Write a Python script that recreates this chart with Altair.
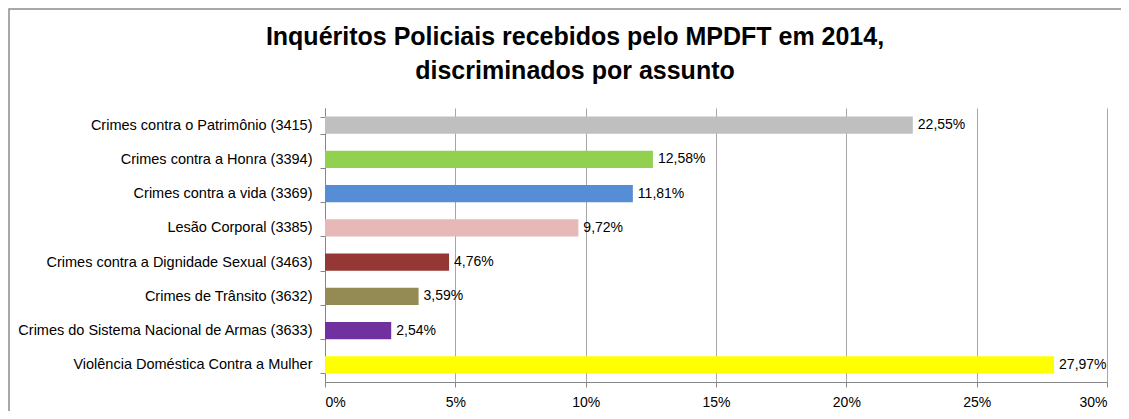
import altair as alt
import pandas as pd

categories = [
    "Crimes contra o Patrimônio (3415)",
    "Crimes contra a Honra (3394)",
    "Crimes contra a vida (3369)",
    "Lesão Corporal (3385)",
    "Crimes contra a Dignidade Sexual (3463)",
    "Crimes de Trânsito (3632)",
    "Crimes do Sistema Nacional de Armas (3633)",
    "Violência Doméstica Contra a Mulher",
]
values = [22.55, 12.58, 11.81, 9.72, 4.76, 3.59, 2.54, 27.97]
colors = ["#BFBFBF", "#92D050", "#558ED5", "#E6B9B8", "#953735", "#948A54", "#7030A0", "#FFFF00"]
x_ticks = [0, 5, 10, 15, 20, 25, 30]

df = pd.DataFrame({
    "cat": categories,
    "val": values,
    "label": [f"{v:.2f}".replace(".", ",") + "%" for v in values],
})

W, H = 782, 274
PL, PT, PR, PB = 317, 100, 14, 29
FONT = "Liberation Sans"

y_enc = alt.Y("cat:N", sort=categories, title=None,
              scale=alt.Scale(paddingInner=0.5, paddingOuter=0.25),
              axis=alt.Axis(labelFontSize=14.5, labelColor="#000000", labelFont=FONT,
                            labelLimit=400, labelPadding=8, tickBand="extent",
                            domainColor="#868686", tickColor="#868686", tickSize=5,
                            grid=False))
x_enc = alt.X("val:Q", title=None,
              scale=alt.Scale(domain=[0, 30], nice=False),
              axis=alt.Axis(values=x_ticks, labelExpr="datum.value + '%'",
                            labelFontSize=14, labelColor="#000000", labelFont=FONT,
                            labelPadding=8, domainColor="#868686", tickColor="#868686",
                            tickSize=5, gridColor="#A6A6A6", gridWidth=1, grid=True))

base = alt.Chart(df)
bars = base.mark_bar().encode(
    y=y_enc, x=x_enc,
    color=alt.Color("cat:N", sort=categories,
                    scale=alt.Scale(domain=categories, range=colors), legend=None),
)
texts = base.mark_text(align="left", baseline="middle", dx=5, fontSize=14,
                       font=FONT, color="#000000").encode(
    y=alt.Y("cat:N", sort=categories), x="val:Q", text="label:N")

frame = alt.Chart(pd.DataFrame({"f": [0]})).mark_rect(
    fill="transparent", stroke="#8C8C8C", strokeWidth=1.5).encode(
    x=alt.value(-PL + 1), x2=alt.value(W + PR + 20),
    y=alt.value(-PT + 1), y2=alt.value(H + PB + 20))

chart = alt.layer(frame, bars, texts).properties(
    width=W, height=H,
    padding={"left": PL, "top": PT, "right": PR, "bottom": PB},
    autosize=alt.AutoSizeParams(type="none"),
    title=alt.TitleParams(
        ["Inquéritos Policiais recebidos pelo MPDFT em 2014,", "discriminados por assunto"],
        fontSize=25, font=FONT, fontWeight="bold", color="#000000",
        anchor="middle", frame="bounds", lineHeight=34, offset=-76),
).configure_view(stroke=None)

chart.save("out.html", embed_options={"renderer": "svg", "actions": False})
